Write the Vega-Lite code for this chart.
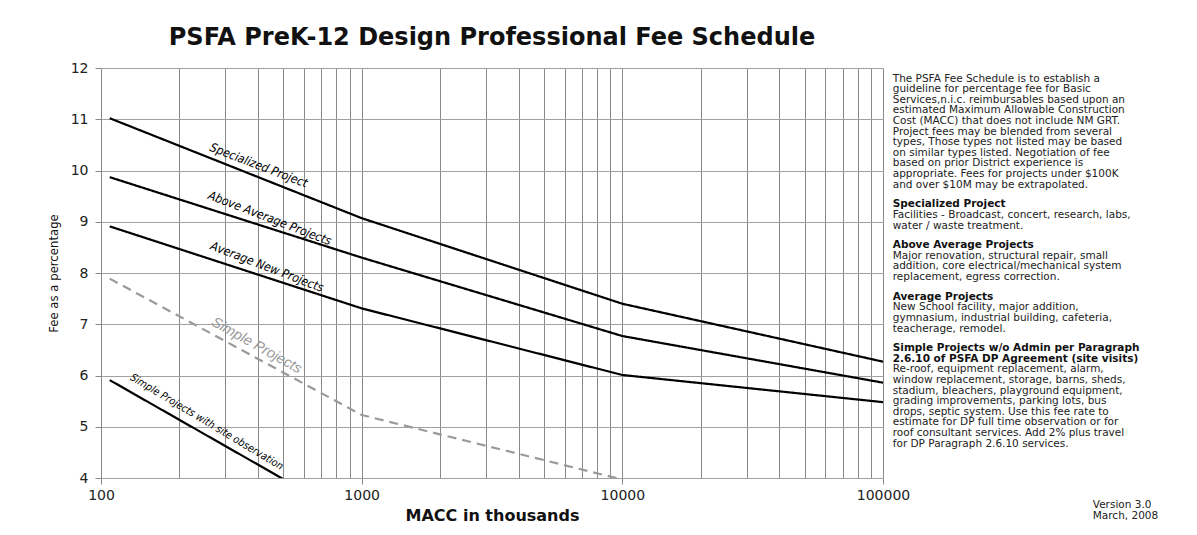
{
  "$schema": "https://vega.github.io/schema/vega-lite/v6.json",
  "width": 782,
  "height": 410,
  "autosize": "none",
  "padding": {"left": 101, "top": 68, "right": 314, "bottom": 57},
  "background": "white",
  "config": {
    "view": {"stroke": null},
    "font": "DejaVu Sans"
  },
  "title": {
    "text": "PSFA PreK-12 Design Professional Fee Schedule",
    "font": "DejaVu Sans",
    "fontSize": 24,
    "fontWeight": "bold",
    "color": "#111111",
    "anchor": "middle",
    "offset": 11
  },
  "datasets": {
    "lines": [
      {"series": "Specialized Project", "macc": 108, "fee": 11.02},
      {"series": "Specialized Project", "macc": 1000, "fee": 9.07},
      {"series": "Specialized Project", "macc": 10000, "fee": 7.40},
      {"series": "Specialized Project", "macc": 100000, "fee": 6.27},
      {"series": "Above Average Projects", "macc": 108, "fee": 9.87},
      {"series": "Above Average Projects", "macc": 1000, "fee": 8.30},
      {"series": "Above Average Projects", "macc": 10000, "fee": 6.77},
      {"series": "Above Average Projects", "macc": 100000, "fee": 5.86},
      {"series": "Average New Projects", "macc": 108, "fee": 8.91},
      {"series": "Average New Projects", "macc": 1000, "fee": 7.31},
      {"series": "Average New Projects", "macc": 10000, "fee": 6.01},
      {"series": "Average New Projects", "macc": 100000, "fee": 5.48},
      {"series": "Simple Projects", "macc": 108, "fee": 7.89},
      {"series": "Simple Projects", "macc": 1000, "fee": 5.23},
      {"series": "Simple Projects", "macc": 10000, "fee": 3.97},
      {"series": "Simple Projects with site observation", "macc": 108, "fee": 5.91},
      {"series": "Simple Projects with site observation", "macc": 508, "fee": 3.96}
    ],
    "labels": [
      {"label": "Specialized  Project", "group": "main", "macc": 403, "fee": 10.1},
      {"label": "Above Average Projects", "group": "main", "macc": 444, "fee": 9.07},
      {"label": "Average New Projects", "group": "main", "macc": 433, "fee": 8.12},
      {"label": "Simple Projects", "group": "simple", "macc": 395, "fee": 6.58},
      {"label": "Simple Projects with site observation", "group": "site", "macc": 254, "fee": 5.09}
    ],
    "notes": [
      {"kind": "body", "macc": 109000, "line": 1, "text": "The PSFA Fee Schedule  is to establish a"},
      {"kind": "body", "macc": 109000, "line": 2, "text": "guideline for percentage fee for Basic"},
      {"kind": "body", "macc": 109000, "line": 3, "text": "Services,n.i.c. reimbursables based upon an"},
      {"kind": "body", "macc": 109000, "line": 4, "text": "estimated Maximum Allowable Construction"},
      {"kind": "body", "macc": 109000, "line": 5, "text": "Cost (MACC) that does not include NM GRT."},
      {"kind": "body", "macc": 109000, "line": 6, "text": "Project fees may be blended from several"},
      {"kind": "body", "macc": 109000, "line": 7, "text": "types,  Those types not listed may be based"},
      {"kind": "body", "macc": 109000, "line": 8, "text": "on similar types listed.  Negotiation of fee"},
      {"kind": "body", "macc": 109000, "line": 9, "text": "based on prior District experience is"},
      {"kind": "body", "macc": 109000, "line": 10, "text": "appropriate.  Fees for projects under $100K"},
      {"kind": "body", "macc": 109000, "line": 11, "text": "and over $10M may be extrapolated."},
      {"kind": "head", "macc": 109000, "line": 12.86, "text": "Specialized Project"},
      {"kind": "body", "macc": 109000, "line": 13.86, "text": "Facilities - Broadcast, concert, research, labs,"},
      {"kind": "body", "macc": 109000, "line": 14.86, "text": "water / waste treatment."},
      {"kind": "head", "macc": 109000, "line": 16.72, "text": "Above Average Projects"},
      {"kind": "body", "macc": 109000, "line": 17.72, "text": "Major renovation, structural repair, small"},
      {"kind": "body", "macc": 109000, "line": 18.72, "text": "addition, core electrical/mechanical system"},
      {"kind": "body", "macc": 109000, "line": 19.72, "text": "replacement,  egress correction."},
      {"kind": "head", "macc": 109000, "line": 21.58, "text": "Average Projects"},
      {"kind": "body", "macc": 109000, "line": 22.58, "text": "New School facility,  major addition,"},
      {"kind": "body", "macc": 109000, "line": 23.58, "text": "gymnasium, industrial building, cafeteria,"},
      {"kind": "body", "macc": 109000, "line": 24.58, "text": "teacherage,  remodel."},
      {"kind": "head", "macc": 109000, "line": 26.44, "text": "Simple Projects w/o Admin per Paragraph"},
      {"kind": "head", "macc": 109000, "line": 27.44, "text": "2.6.10 of PSFA DP Agreement (site visits)"},
      {"kind": "body", "macc": 109000, "line": 28.44, "text": "Re-roof, equipment replacement, alarm,"},
      {"kind": "body", "macc": 109000, "line": 29.44, "text": "window replacement, storage, barns, sheds,"},
      {"kind": "body", "macc": 109000, "line": 30.44, "text": "stadium, bleachers, playground equipment,"},
      {"kind": "body", "macc": 109000, "line": 31.44, "text": "grading improvements, parking lots, bus"},
      {"kind": "body", "macc": 109000, "line": 32.44, "text": "drops, septic system.  Use this fee rate to"},
      {"kind": "body", "macc": 109000, "line": 33.44, "text": "estimate for DP full time observation or for"},
      {"kind": "body", "macc": 109000, "line": 34.44, "text": "roof consultant services.  Add 2% plus travel"},
      {"kind": "body", "macc": 109000, "line": 35.44, "text": "for DP Paragraph 2.6.10 services."},
      {"kind": "body", "macc": 638000, "line": 41.2, "text": "Version 3.0"},
      {"kind": "body", "macc": 638000, "line": 42.3, "text": "March, 2008"}
    ]
  },
  "layer": [
    {
      "layer": [
        {
          "data": {"name": "lines"},
          "mark": {"type": "line", "clip": true, "strokeWidth": 2.2},
          "encoding": {
            "x": {
              "field": "macc",
              "type": "quantitative",
              "scale": {"type": "log", "domain": [100, 100000], "nice": false},
              "axis": {
                "title": "MACC in thousands",
                "titleFont": "DejaVu Sans",
                "titleFontSize": 16,
                "titleFontWeight": "bold",
                "titleColor": "#111111",
                "titlePadding": 5,
                "values": [100, 200, 300, 400, 500, 600, 700, 800, 900, 1000, 2000, 3000, 4000, 5000, 6000, 7000, 8000, 9000, 10000, 20000, 30000, 40000, 50000, 60000, 70000, 80000, 90000, 100000],
                "labelExpr": "indexof([100, 1000, 10000, 100000], datum.value) >= 0 ? format(datum.value, 'd') : ''",
                "labelFont": "DejaVu Sans",
                "labelFontSize": 14,
                "labelColor": "#222222",
                "labelPadding": 4,
                "labelOverlap": false,
                "labelFlush": false,
                "domain": false,
                "ticks": true,
                "tickSize": 6,
                "tickColor": "#888888",
                "tickOpacity": {"condition": {"test": "indexof([100, 1000, 10000, 100000], datum.value) >= 0", "value": 1}, "value": 0},
                "grid": true,
                "gridColor": "#8a8a8a",
                "gridOpacity": 1,
                "gridWidth": 1
              }
            },
            "y": {
              "field": "fee",
              "type": "quantitative",
              "scale": {"domain": [4, 12], "nice": false, "zero": false},
              "axis": {
                "title": "Fee as a percentage",
                "titleFont": "DejaVu Sans Condensed, DejaVu Sans, sans-serif",
                "titleFontSize": 13,
                "titleFontWeight": "normal",
                "titleColor": "#111111",
                "titlePadding": 10,
                "values": [4, 4.25, 4.5, 4.75, 5, 5.25, 5.5, 5.75, 6, 6.25, 6.5, 6.75, 7, 7.25, 7.5, 7.75, 8, 8.25, 8.5, 8.75, 9, 9.25, 9.5, 9.75, 10, 10.25, 10.5, 10.75, 11, 11.25, 11.5, 11.75, 12],
                "labelExpr": "datum.value % 1 === 0 ? format(datum.value, 'd') : ''",
                "labelFont": "DejaVu Sans",
                "labelFontSize": 14,
                "labelColor": "#222222",
                "labelPadding": 7,
                "labelOverlap": false,
                "labelFlush": false,
                "domain": false,
                "ticks": true,
                "tickSize": 6,
                "tickColor": "#888888",
                "tickOpacity": {"condition": {"test": "datum.value % 1 === 0", "value": 1}, "value": 0},
                "grid": true,
                "gridColor": "#a0a0a0",
                "gridOpacity": 1,
                "gridWidth": 1
              }
            },
            "detail": {"field": "series"},
            "color": {
              "field": "series",
              "type": "nominal",
              "legend": null,
              "scale": {
                "domain": ["Specialized Project", "Above Average Projects", "Average New Projects", "Simple Projects", "Simple Projects with site observation"],
                "range": ["#000000", "#000000", "#000000", "#9a9a9a", "#000000"]
              }
            },
            "strokeDash": {
              "field": "series",
              "type": "nominal",
              "legend": null,
              "scale": {
                "domain": ["Specialized Project", "Above Average Projects", "Average New Projects", "Simple Projects", "Simple Projects with site observation"],
                "range": [[1, 0], [1, 0], [1, 0], [9, 6], [1, 0]]
              }
            }
          }
        },
        {
          "data": {"name": "labels"},
          "transform": [{"filter": "datum.group === 'main'"}],
          "mark": {"type": "text", "font": "DejaVu Sans Condensed, DejaVu Sans, sans-serif", "fontStyle": "italic", "fontSize": 12.2, "angle": 21, "align": "center", "baseline": "middle", "color": "#000000"},
          "encoding": {
            "x": {"field": "macc", "type": "quantitative"},
            "y": {"field": "fee", "type": "quantitative"},
            "text": {"field": "label"}
          }
        },
        {
          "data": {"name": "labels"},
          "transform": [{"filter": "datum.group === 'simple'"}],
          "mark": {"type": "text", "font": "Liberation Sans, Arial, sans-serif", "fontStyle": "italic", "fontSize": 14.5, "angle": 29, "align": "center", "baseline": "middle", "color": "#999999"},
          "encoding": {
            "x": {"field": "macc", "type": "quantitative"},
            "y": {"field": "fee", "type": "quantitative"},
            "text": {"field": "label"}
          }
        },
        {
          "data": {"name": "labels"},
          "transform": [{"filter": "datum.group === 'site'"}],
          "mark": {"type": "text", "font": "DejaVu Sans Condensed, DejaVu Sans, sans-serif", "fontStyle": "italic", "fontSize": 10.6, "angle": 31, "align": "center", "baseline": "middle", "color": "#000000"},
          "encoding": {
            "x": {"field": "macc", "type": "quantitative"},
            "y": {"field": "fee", "type": "quantitative"},
            "text": {"field": "label"}
          }
        }
      ]
    },
    {
      "data": {"name": "notes"},
      "layer": [
        {
          "transform": [{"filter": "datum.kind === 'body'"}],
          "mark": {"type": "text", "font": "DejaVu Sans", "fontSize": 10.5, "align": "left", "baseline": "middle", "color": "#222222"},
          "encoding": {
            "x": {"field": "macc", "type": "quantitative"},
            "y": {"field": "line", "type": "quantitative", "axis": null, "scale": {"domain": [0, 38.68], "reverse": true, "nice": false, "zero": false}},
            "text": {"field": "text"}
          }
        },
        {
          "transform": [{"filter": "datum.kind === 'head'"}],
          "mark": {"type": "text", "font": "DejaVu Sans", "fontSize": 10.5, "fontWeight": "bold", "align": "left", "baseline": "middle", "color": "#111111"},
          "encoding": {
            "x": {"field": "macc", "type": "quantitative"},
            "y": {"field": "line", "type": "quantitative", "axis": null},
            "text": {"field": "text"}
          }
        }
      ]
    }
  ],
  "resolve": {"scale": {"y": "independent"}}
}
